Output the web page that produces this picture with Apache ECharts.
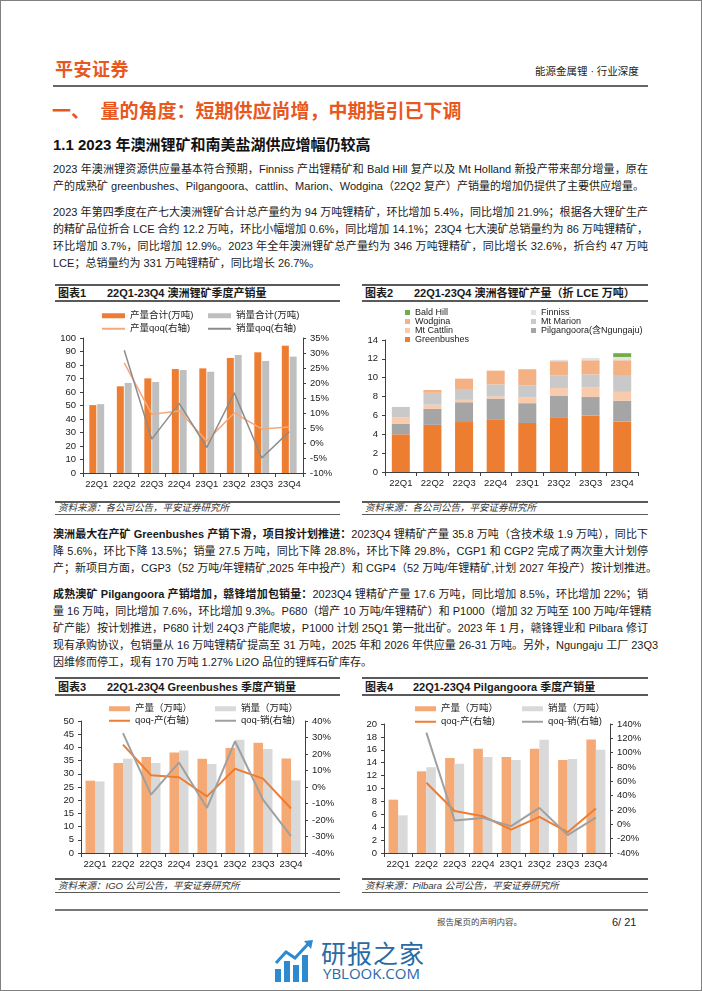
<!DOCTYPE html>
<html>
<head>
<meta charset="utf-8">
<script src="https://cdn.jsdelivr.net/npm/echarts@6/dist/echarts.min.js"></script>
<style>
body{margin:0;background:#fff;}
#page{position:relative;width:702px;height:991px;overflow:hidden;font-family:"Liberation Sans","Noto Sans CJK SC",sans-serif;color:#1a1a1a;}
#frame{position:absolute;left:0;top:0;width:702px;height:991px;box-sizing:border-box;border:1px solid #808080;}
.ln{position:absolute;left:53px;width:595px;font-size:11px;line-height:17px;height:17px;white-space:nowrap;text-align:justify;text-align-last:justify;}
.ln.last{text-align-last:left;}
.hr{position:absolute;background:#5a5a5a;}
.ttl{position:absolute;font-size:11px;font-weight:bold;line-height:14px;white-space:nowrap;}
.src{position:absolute;font-size:9.5px;font-style:italic;line-height:12px;color:#333;white-space:nowrap;}
.chart{position:absolute;}
</style>
</head>
<body>
<div id="page">
  <div id="frame"></div>

  <div style="position:absolute;left:55px;top:59px;font-size:18px;font-weight:bold;color:#e8581e;line-height:22px;letter-spacing:0.5px;">平安证券</div>
  <div style="position:absolute;left:535px;top:64px;font-size:10.5px;line-height:14px;color:#222;">能源金属锂 · 行业深度</div>
  <div class="hr" style="left:53px;top:85px;width:595px;height:1.5px;background:#666;"></div>

  <div style="position:absolute;left:52px;top:100px;font-size:19px;font-weight:bold;color:#e8581e;line-height:24px;white-space:nowrap;">一、&nbsp;&nbsp;量的角度：短期供应尚增，中期指引已下调</div>
  <div style="position:absolute;left:53px;top:136px;font-size:15px;font-weight:bold;color:#111;line-height:18px;white-space:nowrap;">1.1 2023 年澳洲锂矿和南美盐湖供应增幅仍较高</div>

  <div class="ln" style="top:161px;">2023 年澳洲锂资源供应量基本符合预期，Finniss 产出锂精矿和 Bald Hill 复产以及 Mt Holland 新投产带来部分增量，原在</div>
  <div class="ln last" style="top:178px;">产的成熟矿 greenbushes、Pilgangoora、cattlin、Marion、Wodgina（22Q2 复产）产销量的增加仍提供了主要供应增量。</div>

  <div class="ln" style="top:204px;">2023 年第四季度在产七大澳洲锂矿合计总产量约为 94 万吨锂精矿，环比增加 5.4%，同比增加 21.9%；根据各大锂矿生产</div>
  <div class="ln" style="top:221px;">的精矿品位折合 LCE 合约 12.2 万吨，环比小幅增加 0.6%，同比增加 14.1%；23Q4 七大澳矿总销量约为 86 万吨锂精矿，</div>
  <div class="ln" style="top:238px;">环比增加 3.7%，同比增加 12.9%。2023 年全年澳洲锂矿总产量约为 346 万吨锂精矿，同比增长 32.6%，折合约 47 万吨</div>
  <div class="ln last" style="top:255px;">LCE；总销量约为 331 万吨锂精矿，同比增长 26.7%。</div>

  <!-- chart titles top -->
  <div class="hr" style="left:55px;top:284px;width:285px;height:2px;"></div>
  <div class="ttl" style="left:58px;top:286px;">图表1</div>
  <div class="ttl" style="left:107px;top:286px;">22Q1-23Q4 澳洲锂矿季度产销量</div>
  <div class="hr" style="left:55px;top:300px;width:285px;height:1.5px;"></div>

  <div class="hr" style="left:362px;top:284px;width:286px;height:2px;"></div>
  <div class="ttl" style="left:365px;top:286px;">图表2</div>
  <div class="ttl" style="left:414px;top:286px;">22Q1-23Q4 澳洲各锂矿产量（折 LCE 万吨）</div>
  <div class="hr" style="left:362px;top:300px;width:286px;height:1.5px;"></div>

  <div id="c1" class="chart" style="left:55px;top:303px;width:285px;height:195px;"></div>
  <div id="c2" class="chart" style="left:362px;top:303px;width:286px;height:195px;"></div>

  <div class="hr" style="left:55px;top:501px;width:285px;height:1.5px;"></div>
  <div class="src" style="left:58px;top:502px;">资料来源：各公司公告，平安证券研究所</div>
  <div class="hr" style="left:55px;top:514px;width:285px;height:1px;"></div>
  <div class="hr" style="left:362px;top:501px;width:286px;height:1.5px;"></div>
  <div class="src" style="left:365px;top:502px;">资料来源：各公司公告，平安证券研究所</div>
  <div class="hr" style="left:362px;top:514px;width:286px;height:1px;"></div>

  <div class="ln" style="top:526px;"><b>澳洲最大在产矿 Greenbushes 产销下滑，项目按计划推进：</b>2023Q4 锂精矿产量 35.8 万吨（含技术级 1.9 万吨），同比下</div>
  <div class="ln" style="top:543px;">降 5.6%，环比下降 13.5%；销量 27.5 万吨，同比下降 28.8%，环比下降 29.8%，CGP1 和 CGP2 完成了两次重大计划停</div>
  <div class="ln last" style="top:560px;">产；新项目方面，CGP3（52 万吨/年锂精矿,2025 年中投产）和 CGP4（52 万吨/年锂精矿,计划 2027 年投产）按计划推进。</div>

  <div class="ln" style="top:586px;"><b>成熟澳矿 Pilgangoora 产销增加，赣锋增加包销量：</b>2023Q4 锂精矿产量 17.6 万吨，同比增加 8.5%，环比增加 22%；销</div>
  <div class="ln" style="top:603px;">量 16 万吨，同比增加 7.6%，环比增加 9.3%。P680（增产 10 万吨/年锂精矿）和 P1000（增加 32 万吨至 100 万吨/年锂精</div>
  <div class="ln" style="top:620px;">矿产能）按计划推进，P680 计划 24Q3 产能爬坡，P1000 计划 25Q1 第一批出矿。2023 年 1 月，赣锋锂业和 Pilbara 修订</div>
  <div class="ln" style="top:637px;">现有承购协议，包销量从 16 万吨锂精矿提高至 31 万吨，2025 年和 2026 年供应量 26-31 万吨。另外，Ngungaju 工厂 23Q3</div>
  <div class="ln last" style="top:654px;">因维修而停工，现有 170 万吨 1.27% Li2O 品位的锂辉石矿库存。</div>

  <!-- chart titles bottom -->
  <div class="hr" style="left:55px;top:677px;width:285px;height:2px;"></div>
  <div class="ttl" style="left:58px;top:680px;">图表3</div>
  <div class="ttl" style="left:107px;top:680px;">22Q1-23Q4 Greenbushes 季度产销量</div>
  <div class="hr" style="left:55px;top:694px;width:285px;height:1.5px;"></div>

  <div class="hr" style="left:362px;top:677px;width:286px;height:2px;"></div>
  <div class="ttl" style="left:365px;top:680px;">图表4</div>
  <div class="ttl" style="left:413px;top:680px;">22Q1-23Q4 Pilgangoora 季度产销量</div>
  <div class="hr" style="left:362px;top:694px;width:286px;height:1.5px;"></div>

  <div id="c3" class="chart" style="left:55px;top:698px;width:285px;height:177px;"></div>
  <div id="c4" class="chart" style="left:362px;top:698px;width:286px;height:177px;"></div>

  <div class="hr" style="left:55px;top:878px;width:285px;height:1.5px;"></div>
  <div class="src" style="left:58px;top:880px;">资料来源：IGO 公司公告，平安证券研究所</div>
  <div class="hr" style="left:55px;top:892px;width:285px;height:1px;"></div>
  <div class="hr" style="left:362px;top:878px;width:286px;height:1.5px;"></div>
  <div class="src" style="left:365px;top:880px;">资料来源：Pilbara 公司公告，平安证券研究所</div>
  <div class="hr" style="left:362px;top:892px;width:286px;height:1px;"></div>

  <div class="hr" style="left:55px;top:909px;width:593px;height:1.5px;background:#777;"></div>
  <div style="position:absolute;left:437px;top:916px;font-size:8.5px;line-height:12px;color:#444;">报告尾页的声明内容。</div>
  <div style="position:absolute;left:612px;top:915px;font-size:11px;line-height:14px;color:#222;">6/ 21</div>

  <!-- watermark -->
  <svg style="position:absolute;left:273px;top:939px;" width="42" height="44" viewBox="0 0 42 44">
    <rect x="2" y="30" width="6" height="13" fill="#2d8ad0"/>
    <rect x="11" y="22" width="6" height="21" fill="#2d8ad0"/>
    <rect x="20" y="26" width="6" height="17" fill="#2d8ad0"/>
    <rect x="29" y="16" width="6" height="27" fill="#2d8ad0"/>
    <polyline points="3,24 13,13 22,19 36,4" fill="none" stroke="#2d8ad0" stroke-width="3"/>
    <polygon points="31,2 40,1 38,10" fill="#2d8ad0"/>
  </svg>
  <div style="position:absolute;left:321px;top:937px;font-size:25px;line-height:30px;color:#2a6aa6;font-family:'Noto Sans CJK SC',sans-serif;letter-spacing:1px;">研报之家</div>
  <div style="position:absolute;left:323px;top:964px;font-size:15px;line-height:18px;color:#2a6aa6;font-family:'Open Sans','Liberation Sans',sans-serif;">YBLOOK.COM</div>
</div>

<script>
var FONT = 'Liberation Sans, Noto Sans CJK SC';
var quarters = ['22Q1', '22Q2', '22Q3', '22Q4', '23Q1', '23Q2', '23Q3', '23Q4'];

// 图表1 澳洲锂矿季度产销量（万吨）及环比（%）
var ausOutput = [50.3, 64.2, 70.1, 77.0, 77.5, 85.2, 89.4, 94.3];
var ausSales = [51.0, 66.7, 67.4, 76.3, 75.0, 87.4, 83.0, 86.2];
var ausOutputQoq = [null, 26.7, 9.6, 10.7, 0.7, 10.0, 4.7, 5.3];
var ausSalesQoq = [null, 30.9, 1.3, 13.2, -1.5, 16.7, -5.0, 3.8];

// 图表2 各锂矿产量（折LCE万吨）
var mineGreenbushes = [4.0, 5.0, 5.3, 5.6, 5.2, 5.8, 6.0, 5.35];
var minePilgangoora = [1.1, 1.7, 2.1, 2.15, 2.1, 2.3, 1.95, 2.2];
var mineCattlin = [0.7, 0.45, 0.25, 0.25, 0.6, 0.8, 1.05, 0.95];
var mineMarion = [1.1, 1.25, 1.15, 1.3, 1.3, 1.35, 1.35, 1.7];
var mineWodgina = [0, 0.3, 1.1, 1.45, 1.7, 1.5, 1.5, 1.65];
var mineFinniss = [0, 0, 0, 0, 0, 0.15, 0.25, 0.35];
var mineBaldHill = [0, 0, 0, 0, 0, 0, 0, 0.4];

// 图表3 Greenbushes
var gbOutput = [27.4, 34.1, 36.4, 38.1, 35.7, 39.8, 41.8, 35.8];
var gbSales = [27.1, 35.7, 34.1, 38.8, 33.7, 42.9, 39.4, 27.5];
var gbOutputQoq = [null, 25.7, 7.1, 5.9, -5.7, 11.1, 5.1, -13.0];
var gbSalesQoq = [null, 32.7, -4.6, 14.9, -12.7, 27.7, -7.7, -29.8];

// 图表4 Pilgangoora
var pilOutput = [8.27, 12.66, 14.73, 16.18, 14.88, 16.18, 14.42, 17.6];
var pilSales = [5.84, 13.28, 13.85, 14.88, 14.42, 17.57, 14.57, 16.0];
var pilOutputQoq = [null, 58, 18.5, 11.4, -7.3, 10.5, -11, 22];
var pilSalesQoq = [null, 128, 5.3, 9.0, -2.6, 23, -15, 9.3];

var AXIS_COLOR = '#404040';

function xAxisCfg() {
    return {
        type: 'category',
        data: quarters,
        axisLine: {lineStyle: {color: AXIS_COLOR, width: 1}},
        axisTick: {show: true, length: 4, lineStyle: {color: AXIS_COLOR}},
        axisLabel: {interval: 0, fontSize: 9.5, color: '#222', margin: 7, fontFamily: FONT}
    };
}

function yAxisCfg(min, max, step, pos, pct) {
    return {
        type: 'value',
        position: pos,
        min: min,
        max: max,
        interval: step,
        axisLine: {show: true, lineStyle: {color: AXIS_COLOR, width: 1}},
        axisTick: {show: true, length: 3, lineStyle: {color: AXIS_COLOR}},
        splitLine: {show: false},
        axisLabel: {fontSize: 9.5, color: '#222', margin: 7, fontFamily: FONT,
            formatter: pct ? '{value}%' : '{value}'}
    };
}

function legendItem(name, left, top, w, h, fs) {
    return {
        data: [{name: name, icon: 'rect'}],
        left: left,
        top: top,
        padding: 0,
        itemWidth: w,
        itemHeight: h,
        selectedMode: false,
        textStyle: {fontSize: fs || 9.5, color: '#222', fontFamily: FONT}
    };
}

function barS(name, data, color, width, gap) {
    return {name: name, type: 'bar', data: data, barWidth: width, barGap: gap,
        itemStyle: {color: color}, animation: false};
}

function lineS(name, data, color, width) {
    return {name: name, type: 'line', yAxisIndex: 1, data: data, symbol: 'none',
        lineStyle: {color: color, width: width}, itemStyle: {color: color}, animation: false};
}

// 图表1
var chart1 = echarts.init(document.getElementById('c1'));
chart1.setOption({
    animation: false,
    grid: {left: 28, top: 35, width: 220, height: 135},
    legend: [
        legendItem('产量合计(万吨)', 47, 8, 23, 5),
        legendItem('销量合计(万吨)', 153, 8, 23, 5),
        legendItem('产量qoq(右轴)', 47, 21, 23, 2),
        legendItem('销量qoq(右轴)', 153, 21, 23, 2)
    ],
    xAxis: xAxisCfg(),
    yAxis: [yAxisCfg(0, 100, 10, 'left', false), yAxisCfg(-10, 35, 5, 'right', true)],
    series: [
        barS('产量合计(万吨)', ausOutput, '#ed7d31', 7, '12%'),
        barS('销量合计(万吨)', ausSales, '#bfbfbf', 7, '12%'),
        lineS('产量qoq(右轴)', ausOutputQoq, '#f7a878', 1.5),
        lineS('销量qoq(右轴)', ausSalesQoq, '#8c8c8c', 1.5)
    ]
});

// 图表2
var chart2 = echarts.init(document.getElementById('c2'));
var mineColors = {
    'Greenbushes': '#ed7d31',
    'Pilgangoora(含Ngungaju)': '#a5a5a5',
    'Mt Cattlin': '#f8cbad',
    'Mt Marion': '#c9c9c9',
    'Wodgina': '#f4b183',
    'Finniss': '#e2e2e2',
    'Bald Hill': '#70ad47'
};
function stackS(name, data) {
    return {name: name, type: 'bar', stack: 'lce', data: data, barWidth: 18,
        itemStyle: {color: mineColors[name]}, animation: false};
}
chart2.setOption({
    animation: false,
    grid: {left: 23, top: 37, width: 253, height: 132},
    legend: [
        legendItem('Bald Hill', 43, 5, 5, 5, 9),
        legendItem('Wodgina', 43, 14, 5, 5, 9),
        legendItem('Mt Cattlin', 43, 23, 5, 5, 9),
        legendItem('Greenbushes', 43, 32, 5, 5, 9),
        legendItem('Finniss', 169, 5, 5, 5, 9),
        legendItem('Mt Marion', 169, 14, 5, 5, 9),
        legendItem('Pilgangoora(含Ngungaju)', 169, 23, 5, 5, 9)
    ],
    xAxis: xAxisCfg(),
    yAxis: yAxisCfg(0, 14, 2, 'left', false),
    series: [
        stackS('Greenbushes', mineGreenbushes),
        stackS('Pilgangoora(含Ngungaju)', minePilgangoora),
        stackS('Mt Cattlin', mineCattlin),
        stackS('Mt Marion', mineMarion),
        stackS('Wodgina', mineWodgina),
        stackS('Finniss', mineFinniss),
        stackS('Bald Hill', mineBaldHill)
    ]
});

// 图表3
var chart3 = echarts.init(document.getElementById('c3'));
chart3.setOption({
    animation: false,
    grid: {left: 26, top: 23, width: 224, height: 132},
    legend: [
        legendItem('产量（万吨）', 54, 6, 21, 5),
        legendItem('销量（万吨）', 160, 6, 21, 5),
        legendItem('qoq-产(右轴)', 54, 18, 21, 2),
        legendItem('qoq-销(右轴)', 160, 18, 21, 2)
    ],
    xAxis: xAxisCfg(),
    yAxis: [yAxisCfg(0, 50, 5, 'left', false), yAxisCfg(-40, 40, 10, 'right', true)],
    series: [
        barS('产量（万吨）', gbOutput, '#f5aa75', 9.5, '0%'),
        barS('销量（万吨）', gbSales, '#d9d9d9', 9.5, '0%'),
        lineS('qoq-产(右轴)', gbOutputQoq, '#ed7d31', 2),
        lineS('qoq-销(右轴)', gbSalesQoq, '#a0a0a0', 2)
    ]
});

// 图表4
var chart4 = echarts.init(document.getElementById('c4'));
chart4.setOption({
    animation: false,
    grid: {left: 22, top: 26, width: 226, height: 129},
    legend: [
        legendItem('产量（万吨）', 53, 6, 21, 5),
        legendItem('销量（万吨）', 160, 6, 21, 5),
        legendItem('qoq-产(右轴)', 53, 19, 21, 2),
        legendItem('qoq-销(右轴)', 160, 19, 21, 2)
    ],
    xAxis: xAxisCfg(),
    yAxis: [yAxisCfg(0, 20, 2, 'left', false), yAxisCfg(-40, 140, 20, 'right', true)],
    series: [
        barS('产量（万吨）', pilOutput, '#f5aa75', 9.5, '0%'),
        barS('销量（万吨）', pilSales, '#d9d9d9', 9.5, '0%'),
        lineS('qoq-产(右轴)', pilOutputQoq, '#ed7d31', 2),
        lineS('qoq-销(右轴)', pilSalesQoq, '#a0a0a0', 2)
    ]
});
</script>
</body>
</html>
